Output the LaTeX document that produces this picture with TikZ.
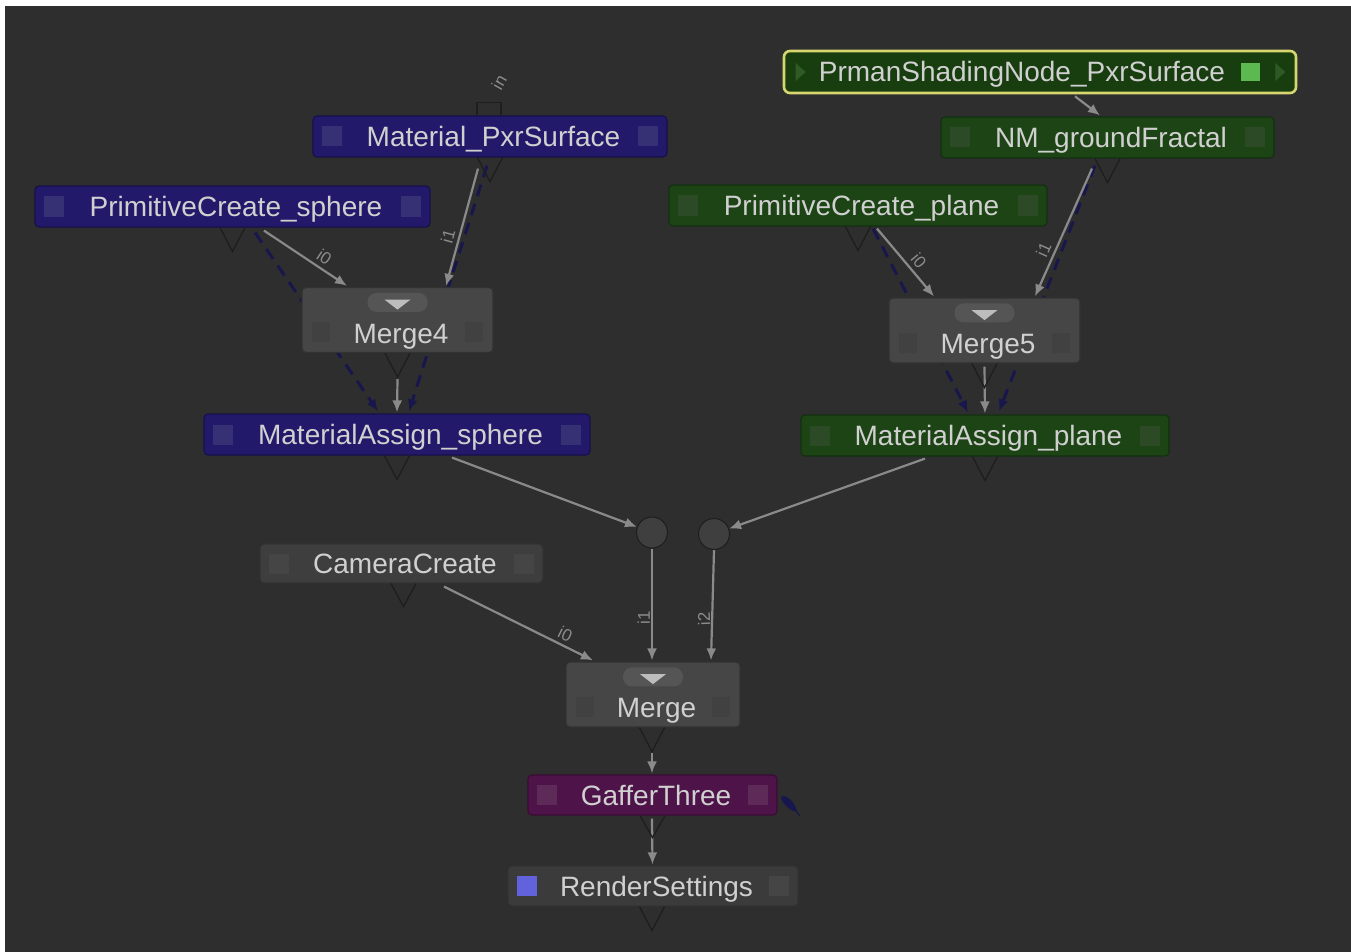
\documentclass[tikz,border=0pt]{standalone}
\usepackage{fontspec}
\setmainfont{Liberation Sans}
\usetikzlibrary{arrows.meta,calc}
\definecolor{bgc}{HTML}{2E2E2E}
\definecolor{bluef}{HTML}{22196A}
\definecolor{blued}{HTML}{17104A}
\definecolor{bluesq}{HTML}{363074}
\definecolor{greenf}{HTML}{1C4414}
\definecolor{greend}{HTML}{123010}
\definecolor{greensq}{HTML}{2D4A27}
\definecolor{grayf}{HTML}{3E3E3E}
\definecolor{grayd}{HTML}{323232}
\definecolor{graysq}{HTML}{454545}
\definecolor{mergef}{HTML}{464646}
\definecolor{mergesq}{HTML}{414141}
\definecolor{pillc}{HTML}{555555}
\definecolor{pilltri}{HTML}{BDBDBD}
\definecolor{purf}{HTML}{4E1349}
\definecolor{purd}{HTML}{3A0C35}
\definecolor{pursq}{HTML}{5E2B59}
\definecolor{prf}{HTML}{183E10}
\definecolor{yel}{HTML}{D8D66E}
\definecolor{prtri}{HTML}{2E5A24}
\definecolor{prsq}{HTML}{5CB850}
\definecolor{txt}{HTML}{D0D0D0}
\definecolor{edgec}{HTML}{8A8A8A}
\definecolor{navy}{HTML}{17174D}
\definecolor{vportc}{HTML}{1E1E1E}
\definecolor{lblc}{HTML}{8C8C8C}
\definecolor{dotf}{HTML}{3F3F3F}
\definecolor{rssq}{HTML}{6262DC}
\pgfdeclarelayer{back}
\pgfdeclarelayer{edges}
\pgfsetlayers{back,edges,main}
\newcommand{\sqpair}[2]{%
  \fill[#2] ($(#1.west)+(10,-10)$) rectangle ++(20,20);
  \fill[#2] ($(#1.east)+(-30,-10)$) rectangle ++(20,20);}
\newcommand{\mergedeco}[1]{%
  \fill[pillc, rounded corners=9pt] ($(#1.north)+(-30,6)$) rectangle ++(60,19);
  \fill[pilltri] ($(#1.north)+(-13,12.7)$) -- ++(26,0) -- ++(-13,10) -- cycle;
  \fill[mergesq] ($(#1.west)+(11,2)$) rectangle ++(18,20);
  \fill[mergesq] ($(#1.east)+(-29,2)$) rectangle ++(18,20);}
\newcommand{\outv}[3]{%
  \draw[vport] ($(#1.south)+(#2-12.5,0)$) -- ($(#1.south)+(#2,#3)$) -- ($(#1.south)+(#2+12.5,0)$);}
\begin{document}
\begin{tikzpicture}[x=1pt,y=-1pt,
  box/.style={rectangle, rounded corners=4pt, minimum height=41pt, inner sep=0pt,
    font=\fontsize{28}{30}\selectfont, text=txt, text height=20pt, text depth=0pt,
    line width=1.2pt, execute at begin node=\hspace*{7pt}},
  bluebox/.style={box, fill=bluef, draw=blued},
  greenbox/.style={box, fill=greenf, draw=greend},
  graybox/.style={box, fill=grayf, draw=grayd},
  mergebox/.style={box, fill=mergef, draw=grayd, minimum width=191pt, minimum height=65pt},
  purbox/.style={box, fill=purf, draw=purd},
  dotnode/.style={circle, minimum size=31pt, inner sep=0pt, fill=dotf, draw=vportc, line width=1pt},
  edge/.style={draw=edgec, line width=2.2pt, -{Latex[length=12pt,width=10pt]}},
  dashedge/.style={draw=navy, line width=3pt, dash pattern=on 12pt off 8pt, -{Latex[length=12pt,width=10pt]}},
  elabel/.style={font=\fontsize{17}{18}\selectfont, text=lblc, inner sep=1pt},
  vport/.style={draw=vportc, line width=1.3pt},
]
\useasboundingbox (0,0) rectangle (1351,952);
\begin{pgfonlayer}{back}
\fill[white] (0,0) rectangle (1351,952);
\fill[bgc] (5,6) rectangle (1351,952);
\end{pgfonlayer}

% ---------- nodes ----------
\node[box, fill=prf, draw=yel, line width=2.6pt, rounded corners=6pt, minimum width=512pt, minimum height=42pt] (prman) at (1040,72) {\hspace*{-43pt}PrmanShadingNode\_PxrSurface};
\node[greenbox, minimum width=333pt] (nm) at (1107.5,137.5) {NM\_groundFractal};
\node[bluebox, minimum width=354pt] (mat) at (490,136.5) {Material\_PxrSurface};
\node[bluebox, minimum width=395pt] (psph) at (232.5,206.5) {PrimitiveCreate\_sphere};
\node[greenbox, minimum width=378pt] (ppl) at (858,205.5) {PrimitiveCreate\_plane};
\node[mergebox] (m4) at (397.5,320) {\raisebox{-13pt}{Merge4}};
\node[mergebox] (m5) at (984.5,330.5) {\raisebox{-13pt}{Merge5}};
\node[bluebox, minimum width=386pt] (mas) at (397,434.5) {MaterialAssign\_sphere};
\node[greenbox, minimum width=368pt] (map) at (985,435.5) {MaterialAssign\_plane};
\node[dotnode] (dot1) at (652,532.5) {};
\node[dotnode] (dot2) at (714,534) {};
\node[graybox, minimum width=283pt, minimum height=39pt] (cam) at (401.5,563.5) {CameraCreate};
\node[mergebox, minimum width=174pt] (merge) at (653,694.5) {\raisebox{-13pt}{Merge}};
\node[purbox, minimum width=249pt, minimum height=40pt] (gaf) at (652.5,795) {GafferThree};
\node[graybox, fill=grayf!95!black, minimum width=290pt, minimum height=40pt] (rs) at (653,886) {RenderSettings};

% ---------- node decorations ----------
\sqpair{nm}{greensq}
\sqpair{mat}{bluesq}
\sqpair{psph}{bluesq}
\sqpair{ppl}{greensq}
\sqpair{mas}{bluesq}
\sqpair{map}{greensq}
\sqpair{cam}{graysq}
\sqpair{gaf}{pursq}
\fill[rssq] ($(rs.west)+(10,-10)$) rectangle ++(20,20);
\fill[graysq] ($(rs.east)+(-30,-10)$) rectangle ++(20,20);
% prman indicators
\fill[prtri] ($(prman.west)+(13,-9)$) -- ++(10,9) -- ++(-10,9) -- cycle;
\fill[prsq] ($(prman.east)+(-56,-9)$) rectangle ++(19,18);
\fill[prtri] ($(prman.east)+(-22,-9)$) -- ++(10,9) -- ++(-10,9) -- cycle;
% merge pills and squares
\mergedeco{m4}
\mergedeco{m5}
\mergedeco{merge}
% output ports (V shapes)
\outv{nm}{0}{24}
\outv{mat}{0}{24}
\outv{psph}{0}{24}
\outv{ppl}{0}{24}
\outv{m4}{0}{24}
\outv{m5}{0}{24}
\outv{mas}{0}{24}
\outv{map}{0}{24}
\outv{cam}{2}{23}
\outv{merge}{-1}{24}
\outv{gaf}{0}{22}
\outv{rs}{-1}{24}
% "in" input port of Material_PxrSurface
\draw[vport] ($(mat.north)+(-13,0)$) -- ++(0,-13) -- ++(24,0) -- ++(0,13);
\node[elabel, rotate=60] (inlbl) at ($(mat.north)+(9,-33)$) {in};
% gaffer flag
\fill[navy] (781,797) .. controls (787,793) and (796,804) .. (797,812) .. controls (790,811) and (781,803) .. cycle;
\draw[navy, line width=1.2pt] (796,811) -- (800,816);

% ---------- connectors ----------
\begin{pgfonlayer}{edges}
\draw[dashedge] ($(psph.south)+(22.5,5)$) -- ($(mas.north)+(-19,-2)$);
\draw[dashedge] ($(mat.south)+(-3,8)$) -- ($(mas.north)+(12,-2)$);
\draw[dashedge] ($(ppl.south)+(15,2)$) -- ($(map.north)+(-17,-2)$);
\draw[dashedge] ($(nm.south)+(-12.5,7)$) -- ($(map.north)+(14,-3)$);

\draw[edge] ($(prman.south)+(35,2)$) -- ($(nm.north)+(-7.5,-1)$);
\draw[edge] ($(psph.south)+(31.5,3)$) -- node[elabel, pos=0.65, sloped, above=3pt] {i0} ($(m4.north)+(-50.5,-1)$);
\draw[edge] ($(mat.south)+(-12,11)$) -- node[elabel, pos=0.6, sloped, above=3pt] {i1} ($(m4.north)+(48.5,-1)$);
\draw[edge] ($(m4.south)+(0,26)$) -- ($(mas.north)+(0,-1)$);
\draw[edge] ($(ppl.south)+(19,2)$) -- node[elabel, pos=0.58, sloped, above=3pt] {i0} ($(m5.north)+(-50.5,-1)$);
\draw[edge] ($(nm.south)+(-15.5,10)$) -- node[elabel, pos=0.67, sloped, above=3pt] {i1} ($(m5.north)+(50.5,-1)$);
\draw[edge] ($(m5.south)+(0,3)$) -- ($(map.north)+(0,-1)$);
\draw[edge] ($(mas.south)+(55,2)$) -- (dot1);
\draw[edge] ($(map.south)+(-60,2)$) -- (dot2);
\draw[edge] (dot1.south) -- node[elabel, pos=0.62, rotate=90, anchor=south] {i1} ($(merge.north)+(-1,-1)$);
\draw[edge] (dot2.south) -- node[elabel, pos=0.62, rotate=92, anchor=south] {i2} ($(merge.north)+(58,-1)$);
\draw[edge] ($(cam.south)+(42.5,3)$) -- node[elabel, pos=0.78, sloped, above=3pt] {i0} ($(merge.north)+(-60,-1)$);
\draw[edge] ($(merge.south)+(-1,25)$) -- ($(gaf.north)+(-0.5,-1)$);
\draw[edge] ($(gaf.south)+(-0.5,3)$) -- ($(rs.north)+(-0.5,-1)$);
\end{pgfonlayer}
\end{tikzpicture}
\end{document}
